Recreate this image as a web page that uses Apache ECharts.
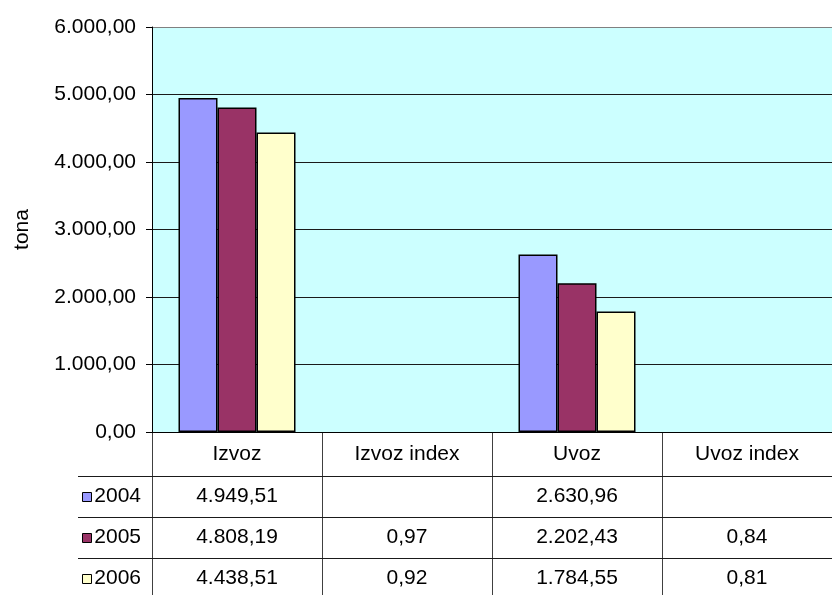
<!DOCTYPE html>
<html>
<head>
<meta charset="utf-8">
<script src="https://cdn.jsdelivr.net/npm/echarts@6/dist/echarts.min.js"></script>
<style>
  html, body { margin: 0; padding: 0; background: #ffffff; }
  #chart { width: 832px; height: 595px; }
</style>
</head>
<body>
<div id="chart"></div>
<script>
// Categories along the x axis (also the data-table columns)
const categories = ['Izvoz', 'Izvoz index', 'Uvoz', 'Uvoz index'];
// Series (data-table rows)
const years = ['2004', '2005', '2006'];
const values2004 = [4949.51, null, 2630.96, null];
const values2005 = [4808.19, 0.97, 2202.43, 0.84];
const values2006 = [4438.51, 0.92, 1784.55, 0.81];
// Value axis
const yMin = 0;
const yMax = 6000;
const yStep = 1000;
const yName = 'tona';

const seriesValues = [values2004, values2005, values2006];
const seriesColors = ['#9999FF', '#993366', '#FFFFCC'];
const FONT = "'Liberation Sans', Arial, sans-serif";
const FS = 21;

// 4949.51 -> "4.949,51"
function fmt(v) {
  const parts = v.toFixed(2).split('.');
  parts[0] = parts[0].replace(/\B(?=(\d{3})+(?!\d))/g, '.');
  return parts[0] + ',' + parts[1];
}

const chart = echarts.init(document.getElementById('chart'), null, { renderer: 'canvas' });

const gridLines = [];
for (let v = yMin; v <= yMax; v += yStep) gridLines.push(v === yMax ? '#808080' : '#1a1a1a');

chart.setOption({
  animation: false,
  backgroundColor: '#ffffff',
  textStyle: { fontFamily: FONT },
  grid: {
    left: 152, top: 27, width: 690, height: 405,
    show: true, backgroundColor: '#CCFFFF', borderWidth: 0
  },
  xAxis: {
    type: 'category',
    data: categories,
    axisLine: { show: true, lineStyle: { color: '#000000', width: 1 } },
    axisTick: { show: false },
    axisLabel: { show: false },
    splitLine: { show: false }
  },
  yAxis: {
    type: 'value',
    min: yMin, max: yMax, interval: yStep,
    name: yName,
    nameLocation: 'middle',
    nameRotate: 90,
    nameGap: 119,
    nameTextStyle: { fontFamily: FONT, fontSize: FS, color: '#000000' },
    axisLine: { show: true, lineStyle: { color: '#000000', width: 1 } },
    axisTick: { show: true, inside: false, length: 6, lineStyle: { color: '#000000' } },
    axisLabel: { formatter: fmt, fontFamily: FONT, fontSize: FS, color: '#000000', margin: 16 },
    splitLine: { show: true, lineStyle: { color: gridLines, width: 1 } }
  },
  series: years.map((y, i) => ({
    name: y,
    type: 'bar',
    // index ratios are far below one tonne on this scale; no outline for them
    data: seriesValues[i].map(v => (v !== null && v < 1)
      ? { value: v, itemStyle: { borderWidth: 0 } }
      : v),
    barWidth: 39,
    barGap: '0%',
    itemStyle: { color: seriesColors[i], borderColor: '#000000', borderWidth: 1.5 }
  }))
});

// Data table under the plot, laid out from the axis scales
function drawTable() {
  const c0 = chart.convertToPixel({ xAxisIndex: 0 }, 0);
  const c1 = chart.convertToPixel({ xAxisIndex: 0 }, 1);
  const band = c1 - c0;
  const left = c0 - band / 2;
  const right = left + band * categories.length;
  const top = chart.convertToPixel({ yAxisIndex: 0 }, yMin);
  const headerH = 44;
  const rowH = 41;
  const keyLeft = 78;
  const g = [];
  const line = (x1, y1, x2, y2, color) => g.push({
    type: 'line', silent: true,
    shape: { x1, y1, x2, y2 },
    style: { stroke: color, lineWidth: 1 }
  });
  const text = (x, y, s, align) => g.push({
    type: 'text', silent: true, x, y,
    style: { text: s, font: FS + 'px ' + FONT, fill: '#000000', align: align || 'center', verticalAlign: 'middle' }
  });
  // column separators
  for (let i = 0; i <= categories.length; i++) {
    const x = Math.round(left + band * i) + 0.5;
    line(x, top, x, top + headerH + rowH * years.length, '#404040');
  }
  // row separators
  for (let r = 0; r <= years.length; r++) {
    const y = Math.round(top + headerH + rowH * r) + 0.5;
    line(keyLeft, y, right, y, '#1a1a1a');
  }
  // header
  categories.forEach((c, i) => text(left + band * (i + 0.5), top + headerH / 2, c));
  // rows: legend key + year, then the values per column
  years.forEach((yr, r) => {
    const cy = top + headerH + rowH * (r + 0.5);
    g.push({
      type: 'rect', silent: true,
      shape: { x: 82.5, y: Math.round(cy) - 4.5, width: 9, height: 9 },
      style: { fill: seriesColors[r], stroke: '#000000', lineWidth: 1 }
    });
    text(left - 11, cy, yr, 'right');
    seriesValues[r].forEach((v, i) => {
      if (v !== null && v !== undefined) text(left + band * (i + 0.5), cy, fmt(v));
    });
  });
  chart.setOption({ graphic: g });
}
drawTable();
</script>
</body>
</html>
